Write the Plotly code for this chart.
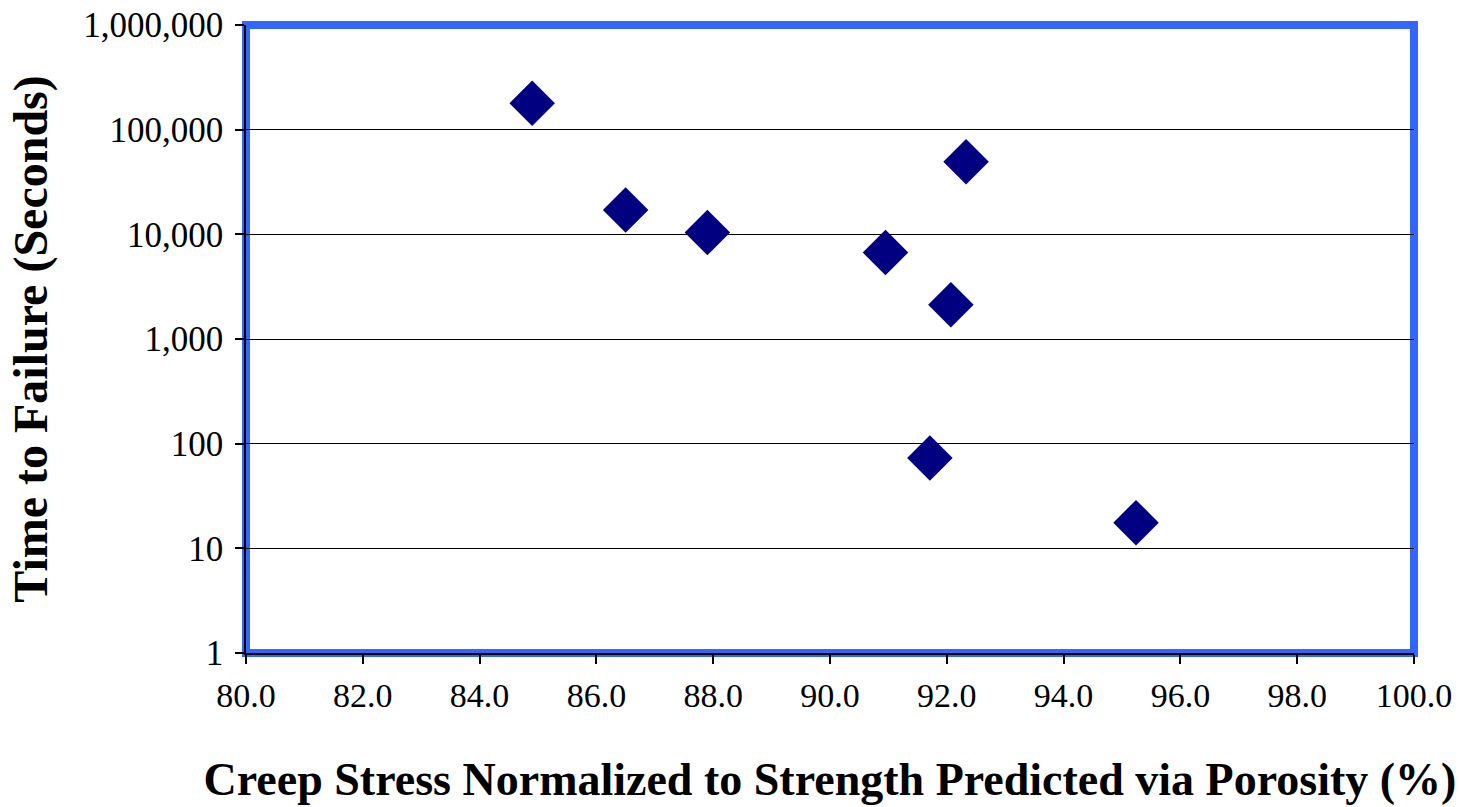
import plotly.graph_objects as go

# Data
stress_pct = [84.9, 86.5, 87.9, 90.95, 92.07, 92.33, 91.71, 95.24]
time_to_failure_s = [179000, 17100, 10400, 6700, 2120, 49500, 73, 17.6]

y_tick_vals = [1, 10, 100, 1000, 10000, 100000, 1000000]
y_tick_text = ["1", "10", "100", "1,000", "10,000", "100,000", "1,000,000"]
x_tick_vals = [80, 82, 84, 86, 88, 90, 92, 94, 96, 98, 100]
x_tick_text = ["80.0", "82.0", "84.0", "86.0", "88.0", "90.0", "92.0", "94.0", "96.0", "98.0", "100.0"]

FONT = "Liberation Serif, Times New Roman, serif"

fig = go.Figure()
fig.add_trace(go.Scatter(
    x=stress_pct, y=time_to_failure_s, mode="markers",
    marker=dict(symbol="diamond", size=35, color="#000080", line=dict(width=0)),
    showlegend=False,
))

fig.update_layout(
    width=1459, height=807,
    margin=dict(l=246, r=45, t=25, b=154),
    paper_bgcolor="white", plot_bgcolor="white",
    font=dict(family=FONT, color="black"),
    shapes=[dict(type="rect", xref="paper", yref="paper", x0=0, y0=0, x1=1, y1=1,
                 line=dict(color="#3366FF", width=8), layer="below")],
)

fig.update_xaxes(
    range=[80, 100], tickvals=x_tick_vals, ticktext=x_tick_text,
    showgrid=False, zeroline=False, automargin=False,
    showline=True, linecolor="black", linewidth=1.5,
    ticks="outside", ticklen=9, tickcolor="black", tickwidth=1.5,
    ticklabelstandoff=2,
    tickfont=dict(family=FONT, size=34, color="black"),
    title=dict(text="<b>Creep Stress Normalized to Strength Predicted via Porosity (%)</b>",
               font=dict(family=FONT, size=46, color="black"), standoff=50),
)
fig.update_yaxes(
    type="log", range=[0, 6], tickvals=y_tick_vals, ticktext=y_tick_text,
    showgrid=True, gridcolor="black", gridwidth=1.2, zeroline=False, automargin=False,
    showline=True, linecolor="black", linewidth=1.5,
    ticks="outside", ticklen=9, tickcolor="black", tickwidth=1.5,
    ticklabelstandoff=5,
    tickfont=dict(family=FONT, size=35, color="black"),
    title=dict(text="<b>Time to Failure (Seconds)</b>",
               font=dict(family=FONT, size=48, color="black"), standoff=20),
)

fig.write_html("out.html")
